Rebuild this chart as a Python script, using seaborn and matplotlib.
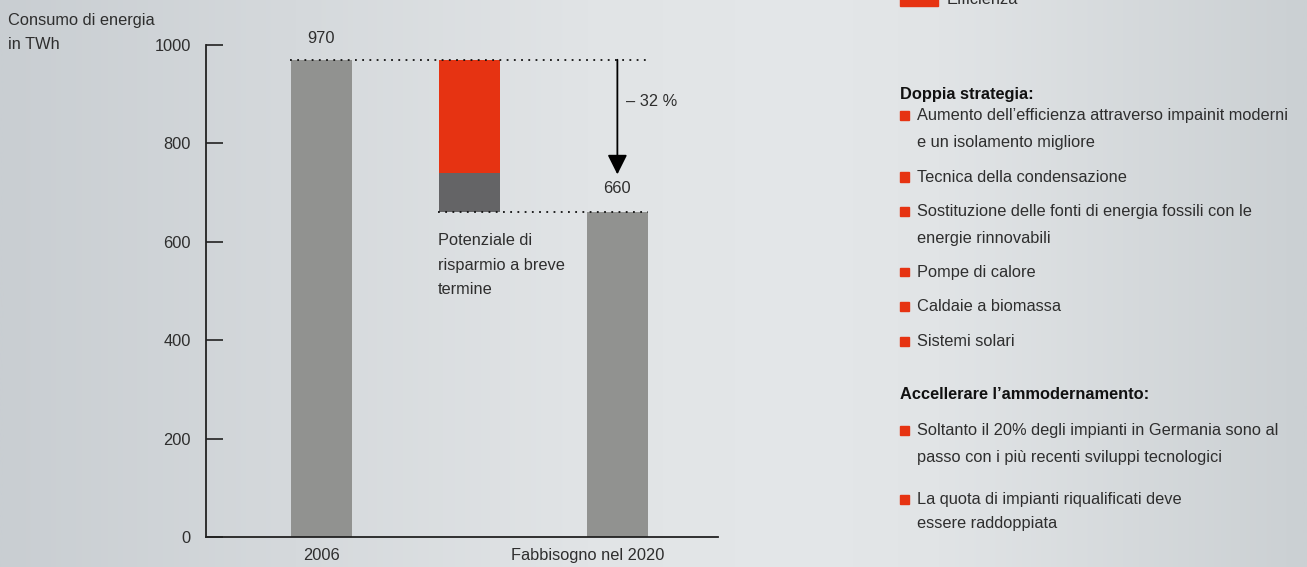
import numpy as np
import pandas as pd
import matplotlib
matplotlib.use("Agg")
import matplotlib.pyplot as plt
import seaborn as sns
from matplotlib.colors import LinearSegmentedColormap
from matplotlib.patches import Rectangle
from matplotlib.transforms import ScaledTranslation

# ---------------- data ----------------
categories = ["2006", " ", "Fabbisogno nel 2020"]
totals = [970, 0, 660]
saving_other = 79        # dark grey part of the saving bar
saving_efficiency = 231  # red part (Efficienza)
yticks = [0, 200, 400, 600, 800, 1000]
pct_label = "\u2013 32 %"
saving_note = ["Potenziale di", "risparmio a breve", "termine"]
y_title = ["Consumo di energia", "in TWh"]
legend_label = "Efficienza"
heading1 = "Doppia strategia:"
items1 = [
    ["Aumento dell\u2019efficienza attraverso impainit moderni", "e un isolamento migliore"],
    ["Tecnica della condensazione"],
    ["Sostituzione delle fonti di energia fossili con le", "energie rinnovabili"],
    ["Pompe di calore"],
    ["Caldaie a biomassa"],
    ["Sistemi solari"],
]
heading2 = "Accellerare l\u2019ammodernamento:"
items2 = [
    ["Soltanto il 20% degli impianti in Germania sono al", "passo con i pi\u00f9 recenti sviluppi tecnologici"],
    ["La quota di impianti riqualificati deve", "essere raddoppiata"],
]

# ---------------- style ----------------
W, H = 1307, 567
sns.set_theme(style="white")
plt.rcParams["font.family"] = ["Liberation Sans", "DejaVu Sans"]
TXT = "#2e2e2e"
GREY = "#919290"
DARK = "#646466"
RED = "#e63312"
FS = 11.8

fig = plt.figure(figsize=(W / 100, H / 100), dpi=100)

# background gradient
bg = fig.add_axes([0, 0, 1, 1], zorder=-10)
cmap = LinearSegmentedColormap.from_list(
    "bg", [(0.0, "#c9ced2"), (0.45, "#e1e4e6"), (0.62, "#e4e7e9"),
           (0.72, "#e1e4e6"), (1.0, "#cbd0d3")])
bg.imshow(np.linspace(0, 1, 512)[None, :], aspect="auto", cmap=cmap,
          extent=[0, 1, 0, 1])
bg.set_axis_off()

def fx(px):
    return px / W

def fy(py):
    return 1 - py / H

# main axes: x 206..718, y 45..537
ax = fig.add_axes([fx(206), fy(537), (718 - 206) / W, (537 - 45) / H])
ax.patch.set_alpha(0)

df = pd.DataFrame({"cat": categories, "val": totals})
sns.barplot(data=df, x="cat", y="val", order=categories, color=GREY,
            saturation=1, width=0.41, linewidth=0, ax=ax, zorder=2)
# stacked saving bar
ax.bar(1, saving_other, bottom=totals[2], width=0.41, color=DARK,
       linewidth=0, zorder=2)
ax.bar(1, saving_efficiency, bottom=totals[2] + saving_other, width=0.41,
       color=RED, linewidth=0, zorder=2)

ax.set_xlim(-0.78, 2.68)
ax.set_ylim(0, 1000)
ax.set_yticks(yticks)
ax.set_yticklabels([str(t) for t in yticks], fontsize=FS, color=TXT)
ax.set_xlabel("")
ax.set_ylabel("")
ax.tick_params(axis="y", direction="in", length=12, width=1.2, color="#222222",
               pad=11, left=True)
ax.tick_params(axis="x", length=0, pad=8, labelsize=FS, labelcolor=TXT)
# the 2020 label sits a little left of its bar in the original
lab = ax.get_xticklabels()[2]
lab.set_transform(lab.get_transform() + ScaledTranslation(-0.30, 0, fig.dpi_scale_trans))
for s in ["top", "right"]:
    ax.spines[s].set_visible(False)
for s in ["left", "bottom"]:
    ax.spines[s].set_color("#222222")
    ax.spines[s].set_linewidth(1.3)

# dotted reference lines
ax.plot([-0.21, 2.2], [totals[0], totals[0]], color="#111111", lw=1.3,
        linestyle=(0, (1, 3)), zorder=3)
ax.plot([0.79, 2.21], [totals[2], totals[2]], color="#111111", lw=1.3,
        linestyle=(0, (1, 3)), zorder=3)

# arrow
ax.annotate("", xy=(2, 737), xytext=(2, totals[0]),
            arrowprops=dict(arrowstyle="-|>,head_length=1.0,head_width=0.5",
                            color="black", lw=1.3, shrinkA=0, shrinkB=0))
ax.text(2.06, 885, pct_label, fontsize=FS, color=TXT, va="center", ha="left")
ax.text(0, totals[0] + 43, str(totals[0]), fontsize=FS, color=TXT,
        ha="center", va="center", clip_on=False)
ax.text(2, 709, str(totals[2]), fontsize=FS, color=TXT, ha="center",
        va="center")
for k, line in enumerate(saving_note):
    ax.annotate(line, xy=(0.787, totals[2]), xytext=(0, -(33 + k * 24.5) * 0.72),
                textcoords="offset points", fontsize=FS, color=TXT,
                ha="left", va="baseline")

# y-axis title
for py, line in zip([25, 49], y_title):
    fig.text(fx(8), fy(py), line, fontsize=FS, color=TXT,
             ha="left", va="baseline")

# legend (cut at top, as in the original)
fig.patches.append(Rectangle((fx(900), fy(6)), fx(38), 12 / H,
                             transform=fig.transFigure, color=RED))
fig.text(fx(947), fy(4), legend_label, fontsize=FS, color=TXT,
         ha="left", va="baseline")

# right-hand text block
def heading(y, txt):
    fig.text(fx(900), fy(y + 5), txt, fontsize=FS, color="#111111",
             fontweight="bold", ha="left", va="baseline")

def bullet(y, lines, gap=27):
    fig.patches.append(Rectangle((fx(900), fy(y + 4.5)), fx(9), 9 / H,
                                 transform=fig.transFigure, color=RED))
    for k, line in enumerate(lines):
        fig.text(fx(917), fy(y + 5 + k * gap), line, fontsize=FS, color=TXT,
                 ha="left", va="baseline")

heading(94, heading1)
for y, t in zip([115, 177, 211, 272, 306, 341], items1):
    bullet(y, t, gap=26.5)

heading(394, heading2)
bullet(430, items2[0], gap=27)
bullet(499, items2[1], gap=24)

fig.savefig("out.png", dpi=100)
